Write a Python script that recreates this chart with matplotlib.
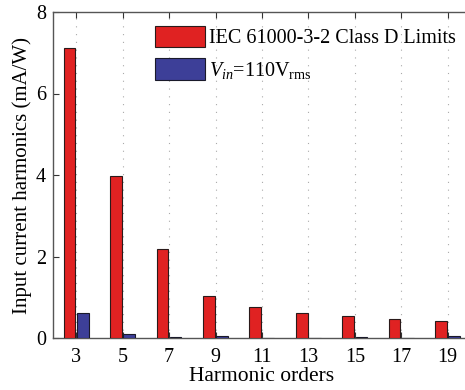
import matplotlib
matplotlib.use("Agg")
import matplotlib.pyplot as plt
import numpy as np

plt.rcParams['font.family'] = ['Liberation Serif', 'DejaVu Serif']
plt.rcParams['mathtext.fontset'] = 'custom'
plt.rcParams['mathtext.rm'] = 'Liberation Serif'
plt.rcParams['mathtext.it'] = 'Liberation Serif:italic'

orders = ['3', '5', '7', '9', '11', '13', '15', '17', '19']
iec_limits = [7.12, 3.97, 2.18, 1.04, 0.75, 0.62, 0.53, 0.47, 0.42]
measured = [0.61, 0.10, 0.03, 0.04, 0.01, 0.01, 0.03, 0.01, 0.05]
yticks = [0, 2, 4, 6, 8]

fig = plt.figure(figsize=(4.65, 3.9), dpi=100)
ax = fig.add_axes([53/465, 1-338/390, (471-53)/465, (338-12)/390])
ax.set_axisbelow(True)

x = np.arange(1, len(orders) + 1)
w = 0.25
ax.bar(x - 0.145, iec_limits, w, color='#e02222', edgecolor='#2a1a1a', linewidth=0.8,
       label='IEC 61000-3-2 Class D Limits', zorder=3)
ax.bar(x + 0.14, measured, w, color='#3d3f98', edgecolor='#1a1a2a', linewidth=0.8,
       label=r'$V_{in}$=110V$_{\mathrm{rms}}$', zorder=3)

ax.set_xlim(0.5, 9.5)
ax.set_ylim(0, 8)
ax.set_xticks(x)
ax.set_xticklabels(orders)
ax.set_yticks(yticks)
ax.tick_params(direction='in', length=4, width=0.8, colors='#333333', labelsize=14.5,
               top=True, right=False, labelcolor='black')
ax.tick_params(axis='x', pad=7)
ax.tick_params(axis='y', pad=5)
ax.grid(True, axis='x', linestyle=(0, (1, 6)), color='#aaaaaa', linewidth=0.8)
for s in ax.spines.values():
    s.set_color('#555555')
    s.set_linewidth(1.0)
ax.spines['right'].set_visible(False)

ax.set_xlabel('Harmonic orders', fontsize=15.5, labelpad=0)
ax.set_ylabel('Input current harmonics (mA/W)', fontsize=15, labelpad=3)

leg = ax.legend(loc='upper left', bbox_to_anchor=(155/465, 1-26/390), bbox_transform=fig.transFigure,
                frameon=False, fontsize=14.5, handlelength=2.5, handleheight=1.25,
                handletextpad=0.2, labelspacing=0.5, borderpad=0, borderaxespad=0)

fig.savefig('out.png', dpi=100)
